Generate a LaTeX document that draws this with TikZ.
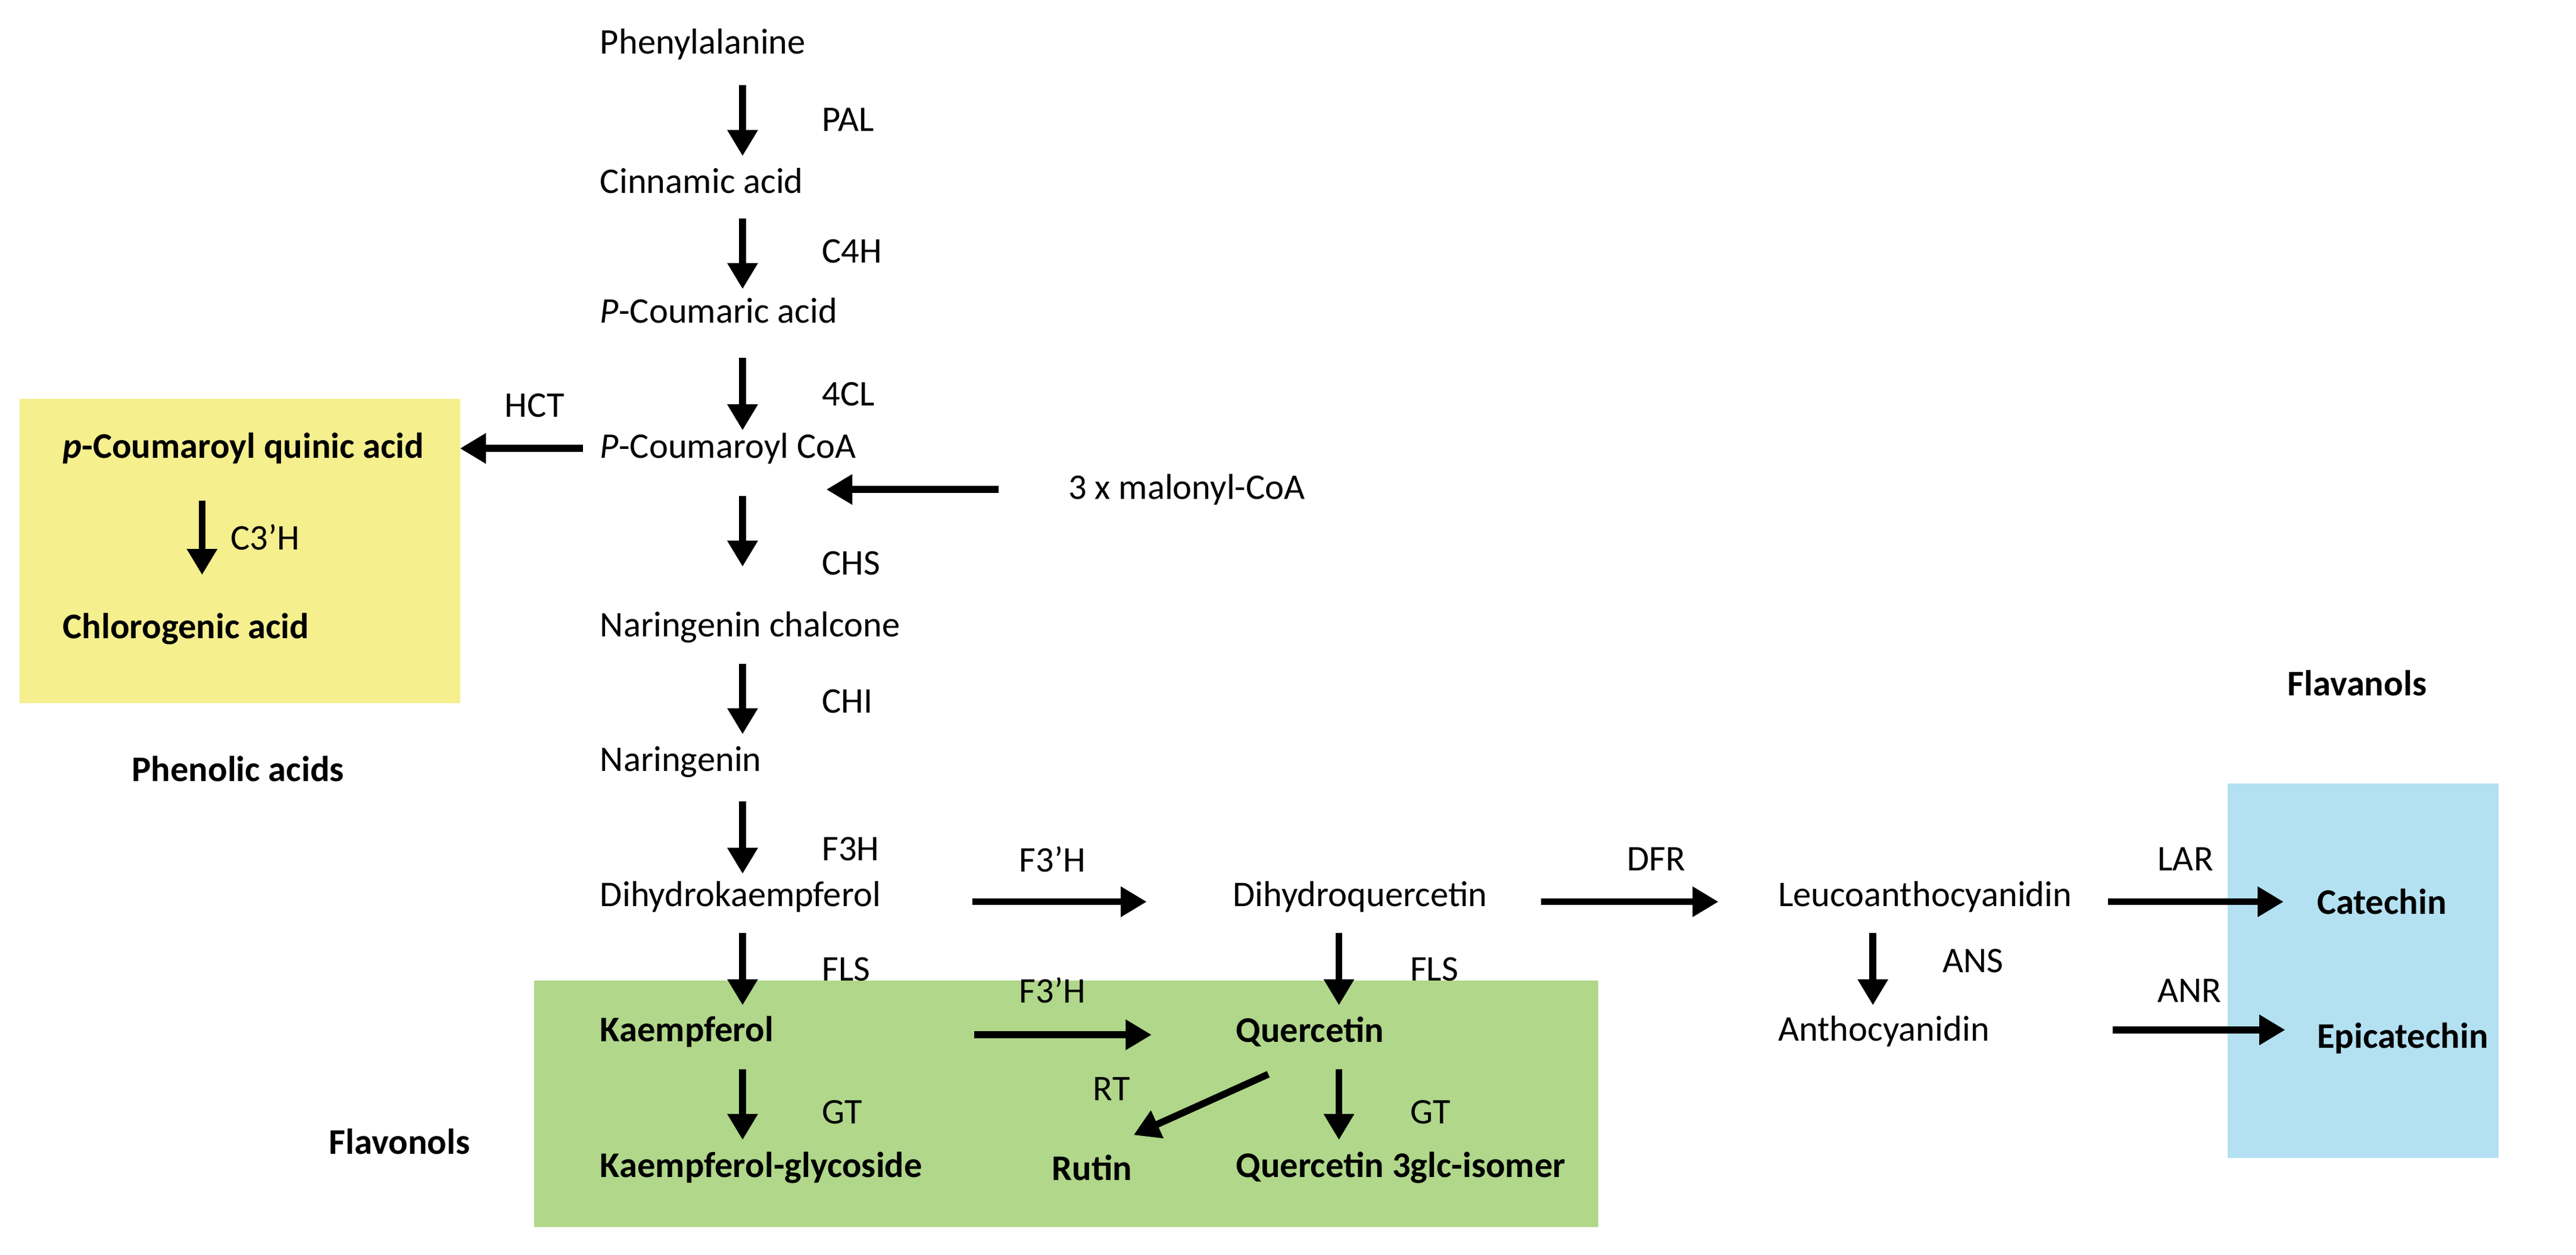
\documentclass[tikz,border=0pt]{standalone}
\usepackage{fontspec}
\setmainfont{Carlito}
\usetikzlibrary{arrows.meta}
\definecolor{yel}{HTML}{F5EF8E}
\definecolor{grn}{HTML}{B0D78A}
\definecolor{blu}{HTML}{B3E1F2}
\begin{document}
\begin{tikzpicture}[x=0.02cm,y=-0.02cm,
  t/.style={anchor=west,inner sep=0pt,font=\fontsize{12.5}{14}\selectfont},
  b/.style={t,font=\fontsize{12.5}{14}\selectfont\bfseries},
  ar/.style={line width=2.4pt,-{Triangle[length=9pt,width=10pt]}}]
\useasboundingbox (0,0) rectangle (1568,764);
\fill[yel] (12,243) rectangle (280,428);
\fill[grn] (325,597) rectangle (973,747);
\fill[blu] (1356,477) rectangle (1521,705);
% main column
\node[t] (phe) at (365,27) {Phenylalanine};
\node[t] (pal) at (500,73) {PAL};
\node[t] (cin) at (365,110) {Cinnamic acid};
\node[t] (c4h) at (500,153) {C4H};
\node[t] (pco) at (365,189) {\textit{P}-Coumaric acid};
\node[t] (cl4) at (500,240) {4CL};
\node[t] (pcoa) at (365,273) {\textit{P}-Coumaroyl CoA};
\node[t] (chs) at (500,343) {CHS};
\node[t] (nch) at (365,382) {Naringenin chalcone};
\node[t] (chi) at (500,427) {CHI};
\node[t] (nar) at (365,464) {Naringenin};
\node[t] (f3h) at (500,517) {F3H};
\node[t] (dhk) at (365,546) {Dihydrokaempferol};
\node[t] (fls1) at (500,590) {FLS};
\node[b] (kae) at (365,628) {Kaempferol};
\node[t] (gt1) at (500,677) {GT};
\node[b] (kgl) at (365,711) {Kaempferol-glycoside};
\node[b] (flv) at (200,695) {Flavonols};
% phenolic
\node[t] (hct) at (307,247) {HCT};
\node[b] (pcq) at (38,273) {\textit{p}-Coumaroyl quinic acid};
\node[t] (c3h) at (140,327) {C3’H};
\node[b] (chl) at (38,383) {Chlorogenic acid};
\node[b] (phe2) at (80,468) {Phenolic acids};
\node[t] (mal) at (650,298) {3 x malonyl-CoA};
% right
\node[t] (f3a) at (620,523) {F3’H};
\node[t] (dhq) at (750,546) {Dihydroquercetin};
\node[t] (dfr) at (990,523) {DFR};
\node[t] (leu) at (1082,546) {Leucoanthocyanidin};
\node[t] (lar) at (1313,523) {LAR};
\node[b] (cat) at (1410,549) {Catechin};
\node[b] (flvn) at (1392,416) {Flavanols};
\node[t] (ans) at (1182,585) {ANS};
\node[t] (ant) at (1082,628) {Anthocyanidin};
\node[t] (anr) at (1313,603) {ANR};
\node[b] (epi) at (1410,632) {Epicatechin};
\node[t] (f3b) at (620,603) {F3’H};
\node[b] (que) at (752,628) {Quercetin};
\node[t] (fls2) at (858,590) {FLS};
\node[t] (gt2) at (858,677) {GT};
\node[b] (q3g) at (752,711) {Quercetin 3glc-isomer};
\node[b] (rut) at (640,711) {Rutin};
\node[t] (rt) at (665,663) {RT};
% arrow endpoints
\foreach \n/\a/\b in {1/52/95,2/133/176,3/218/262,4/302/345,5/404/447,6/488/532,7/568/612,8/651/694}{
  \coordinate (s\n) at (452,\a); \coordinate (e\n) at (452,\b);
  \draw[ar] (s\n) -- (e\n);}
\coordinate (hs) at (355,273); \coordinate (he) at (280,273);
\coordinate (ms) at (608,298); \coordinate (me) at (503,298);
\coordinate (cs) at (123,305); \coordinate (ce) at (123,350);
\coordinate (f1s) at (592,549); \coordinate (f1e) at (698,549);
\coordinate (ds) at (938,549); \coordinate (de) at (1046,549);
\coordinate (ls) at (1283,549); \coordinate (le) at (1390,549);
\coordinate (as) at (1140,568); \coordinate (ae) at (1140,612);
\coordinate (ns) at (1286,627); \coordinate (ne) at (1391,627);
\coordinate (f2s) at (593,630); \coordinate (f2e) at (701,630);
\coordinate (q1s) at (815,568); \coordinate (q1e) at (815,612);
\coordinate (q2s) at (815,651); \coordinate (q2e) at (815,694);
\coordinate (rs) at (772,654); \coordinate (re) at (690,691);
\foreach \p in {h,m,c,f1,d,l,a,n,f2,q1,q2,r}{\draw[ar] (\p s) -- (\p e);}
\end{tikzpicture}
\end{document}
